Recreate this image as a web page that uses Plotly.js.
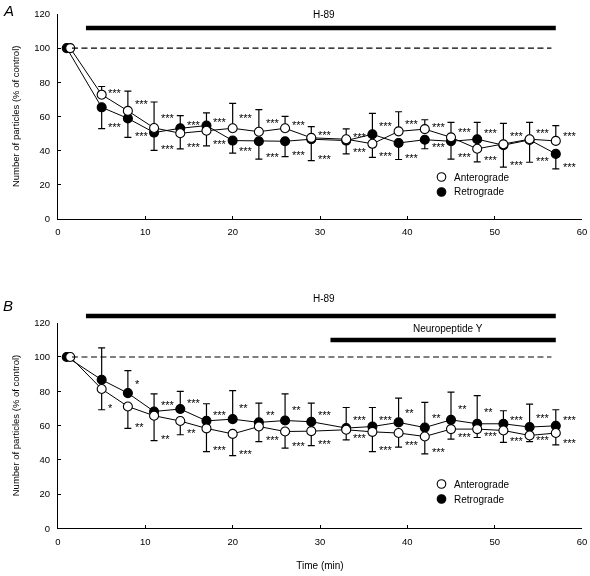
<!DOCTYPE html>
<html><head><meta charset="utf-8">
<script src="https://cdn.plot.ly/plotly-3.0.1.min.js"></script>
<style>html,body{margin:0;padding:0;background:#fff}#chart{width:590px;height:576px}
#chart svg{will-change:transform}</style>
</head><body><div id="chart"></div>
<script>
// ---- data ----
const timeRetro  = [1, 5, 8, 11, 14, 17, 20, 23, 26, 29, 33, 36, 39, 42, 45, 48, 51, 54, 57];
const timeAntero = [1.4, 5, 8, 11, 14, 17, 20, 23, 26, 29, 33, 36, 39, 42, 45, 48, 51, 54, 57];

// Panel A (H-89)
const anteroA    = [100, 72.7, 63.2, 53.2, 50.1, 51.6, 53.0, 51.0, 53.0, 47.4, 46.6, 43.9, 51.2, 52.5, 47.7, 41.0, 43.6, 46.6, 45.6];
const retroA     = [100, 65.3, 58.8, 50.5, 53.0, 54.6, 45.8, 45.4, 45.4, 46.6, 45.8, 49.5, 44.4, 46.3, 45.4, 46.6, 43.1, 46.2, 38.0];
const anteroSemA = [0, 4.8, 11.6, 15.2, 9.2, 8.9, 14.6, 12.9, 7.0, 6.6, 6.0, 7.9, 11.5, 5.5, 8.8, 7.7, 12.3, 9.9, 9.0];
const retroSemA  = [0, 12.5, 11.1, 10.5, 7.4, 7.4, 7.4, 10.5, 9.0, 12.5, 7.8, 12.3, 9.7, 5.3, 10.5, 9.9, 12.9, 13.1, 8.8];
const anteroSigA = ['', '***', '***', '***', '***', '***', '***', '***', '***', '***', '***', '***', '***', '***', '***', '***', '***', '***', '***'];
const retroSigA  = ['', '***', '***', '***', '***', '***', '***', '***', '***', '***', '***', '***', '***', '***', '***', '***', '***', '***', '***'];

// Panel B (H-89 + Neuropeptide Y)
const anteroB    = [100, 81.3, 71.1, 65.7, 62.6, 58.3, 55.1, 59.4, 56.5, 56.7, 57.5, 56.3, 55.6, 53.6, 57.9, 57.9, 57.1, 54.2, 55.6];
const retroB     = [100, 86.7, 78.9, 68.2, 69.6, 62.7, 63.7, 61.8, 62.9, 62.2, 58.5, 59.4, 61.8, 58.8, 63.3, 61.0, 61.0, 59.1, 59.8];
const anteroSemB = [0, 12.1, 12.8, 14.5, 8.0, 13.5, 12.7, 8.8, 9.7, 8.4, 5.9, 11.5, 8.2, 10.2, 5.9, 4.9, 7.0, 3.6, 6.9];
const retroSemB  = [0, 18.6, 13.1, 10.3, 10.3, 10.0, 16.6, 11.3, 15.5, 10.9, 12.0, 11.1, 14.2, 14.7, 16.2, 16.4, 7.6, 13.4, 9.4];
const anteroSigB = ['', '*', '**', '**', '**', '***', '***', '***', '***', '***', '***', '***', '***', '***', '***', '***', '***', '***', '***'];
const retroSigB  = ['', '', '*', '***', '***', '***', '**', '**', '**', '***', '***', '***', '**', '**', '**', '**', '***', '***', '***'];

const h89Period = [3.2, 57];
const npyPeriod = [31.2, 57];
const baseline = 100;
const baselineSpan = [1.6, 56.5];
const xTicks = [0, 10, 20, 30, 40, 50, 60];
const yTicks = [0, 20, 40, 60, 80, 100, 120];
const seriesNames = ['Anterograde', 'Retrograde'];

// ---- helpers ----
const FONT = 'Arial, "Liberation Sans", sans-serif';
function errPlus(v, o, s) { return v.map((d, i) => d > o[i] ? s[i] : 0); }
function errMinus(v, o, s) { return v.map((d, i) => d > o[i] ? 0 : s[i]); }

function trace(t, v, other, sem, filled, xa, ya) {
  return {
    x: t, y: v, xaxis: xa, yaxis: ya, type: 'scatter', mode: 'lines+markers',
    showlegend: false, cliponaxis: false,
    line: {color: '#000', width: 1},
    marker: {symbol: 'circle', size: 9, color: filled ? '#000' : '#fff', line: {color: '#000', width: 1.1}},
    error_y: {type: 'data', symmetric: false, array: errPlus(v, other, sem), arrayminus: errMinus(v, other, sem),
              color: '#000', thickness: 1.2, width: 3.5}
  };
}

function starAnns(t, v, other, sem, sig, xa, ya) {
  const out = [];
  sig.forEach((s, i) => {
    if (!s) return;
    const up = v[i] > other[i];
    const y = up ? v[i] + sem[i] * 0.5 - 1.5 : v[i] - sem[i] + 1;
    out.push({x: t[i] + 0.55, y: y, xref: xa, yref: ya, text: s, showarrow: false,
              xanchor: 'left', yanchor: 'middle', font: {family: FONT, size: 11, color: '#000'}});
  });
  return out;
}

const data = [
  trace(timeRetro, retroA, anteroA, retroSemA, true, 'x', 'y'),
  trace(timeAntero, anteroA, retroA, anteroSemA, false, 'x', 'y'),
  trace(timeRetro, retroB, anteroB, retroSemB, true, 'x2', 'y2'),
  trace(timeAntero, anteroB, retroB, anteroSemB, false, 'x2', 'y2')
];

const dom = [58 / 590, 582 / 590];
function xax(anchor, title) {
  return {domain: dom, anchor: anchor, range: [0, 60], tickvals: xTicks, ticks: 'inside', ticklen: 3,
          showline: true, linecolor: '#000', linewidth: 1, tickcolor: '#000', zeroline: false, showgrid: false,
          ticklabelstandoff: 4, tickfont: {family: FONT, size: 9.5, color: '#000'},
          title: {text: title, font: {family: FONT, size: 10, color: '#000'}, standoff: 16}};
}
function yax(anchor, d) {
  return {domain: d, anchor: anchor, range: [0, 120], tickvals: yTicks, ticks: 'inside', ticklen: 3,
          showline: true, linecolor: '#000', linewidth: 1, tickcolor: '#000', zeroline: false, showgrid: false,
          ticklabelstandoff: 5, tickfont: {family: FONT, size: 9.5, color: '#000'},
          title: {text: 'Number of particles (% of control)', font: {family: FONT, size: 9.5, color: '#000'}, standoff: 12}};
}

const px = v => v / 590, py = v => 1 - v / 576;
const txt = (x, y, text, xref, opts) => Object.assign({x: x, y: y, xref: xref, yref: 'paper', text: text, showarrow: false,
  xanchor: 'center', yanchor: 'middle', font: {family: FONT, size: 10, color: '#000'}}, opts || {});

const shapes = [
  {type: 'line', xref: 'x', yref: 'paper', x0: h89Period[0], x1: h89Period[1], y0: py(28), y1: py(28), line: {color: '#000', width: 4.5}},
  {type: 'line', xref: 'x2', yref: 'paper', x0: h89Period[0], x1: h89Period[1], y0: py(316), y1: py(316), line: {color: '#000', width: 4.5}},
  {type: 'line', xref: 'x2', yref: 'paper', x0: npyPeriod[0], x1: npyPeriod[1], y0: py(340), y1: py(340), line: {color: '#000', width: 4.5}},
  {type: 'line', xref: 'x', yref: 'y', x0: baselineSpan[0], x1: baselineSpan[1], y0: baseline, y1: baseline, line: {color: '#000', width: 1.1, dash: '6px,3.5px'}},
  {type: 'line', xref: 'x2', yref: 'y2', x0: baselineSpan[0], x1: baselineSpan[1], y0: baseline, y1: baseline, line: {color: '#000', width: 1.1, dash: '6px,3.5px'}}
];
// legend symbols
[[177, 192], [484, 499]].forEach(rows => {
  rows.forEach((r, k) => shapes.push({type: 'circle', xref: 'paper', yref: 'paper', xsizemode: 'pixel', ysizemode: 'pixel',
    xanchor: px(441.5), yanchor: py(r), x0: -4.3, x1: 4.3, y0: -4.3, y1: 4.3,
    fillcolor: k === 0 ? '#fff' : '#000', line: {color: '#000', width: 1.1}}));
});

let annotations = [
  txt(px(8), py(11), '<i>A</i>', 'paper', {font: {family: FONT, size: 15, color: '#000'}}),
  txt(px(8), py(305), '<i>B</i>', 'paper', {font: {family: FONT, size: 15, color: '#000'}}),
  txt(30.5, py(15), 'H-89', 'x'),
  txt(30.5, py(298), 'H-89', 'x2'),
  txt(44.7, py(328), 'Neuropeptide Y', 'x2')
];
[[177, 192], [484, 499]].forEach(rows => {
  rows.forEach((r, k) => annotations.push(txt(px(452), py(r), seriesNames[k], 'paper', {xanchor: 'left', font: {family: FONT, size: 10, color: '#000'}})));
});
annotations = annotations
  .concat(starAnns(timeAntero, anteroA, retroA, anteroSemA, anteroSigA, 'x', 'y'))
  .concat(starAnns(timeRetro, retroA, anteroA, retroSemA, retroSigA, 'x', 'y'))
  .concat(starAnns(timeAntero, anteroB, retroB, anteroSemB, anteroSigB, 'x2', 'y2'))
  .concat(starAnns(timeRetro, retroB, anteroB, retroSemB, retroSigB, 'x2', 'y2'));

const layout = {
  width: 590, height: 576, margin: {l: 0, r: 0, t: 0, b: 0},
  paper_bgcolor: '#fff', plot_bgcolor: '#fff', showlegend: false,
  font: {family: FONT, size: 10, color: '#000'},
  xaxis: xax('y', ''),
  yaxis: yax('x', [py(218.7), py(14)]),
  xaxis2: xax('y2', 'Time (min)'),
  yaxis2: yax('x2', [py(528.3), py(322.7)]),
  shapes: shapes, annotations: annotations
};

Plotly.newPlot('chart', data, layout, {staticPlot: true});
</script>
</body></html>
